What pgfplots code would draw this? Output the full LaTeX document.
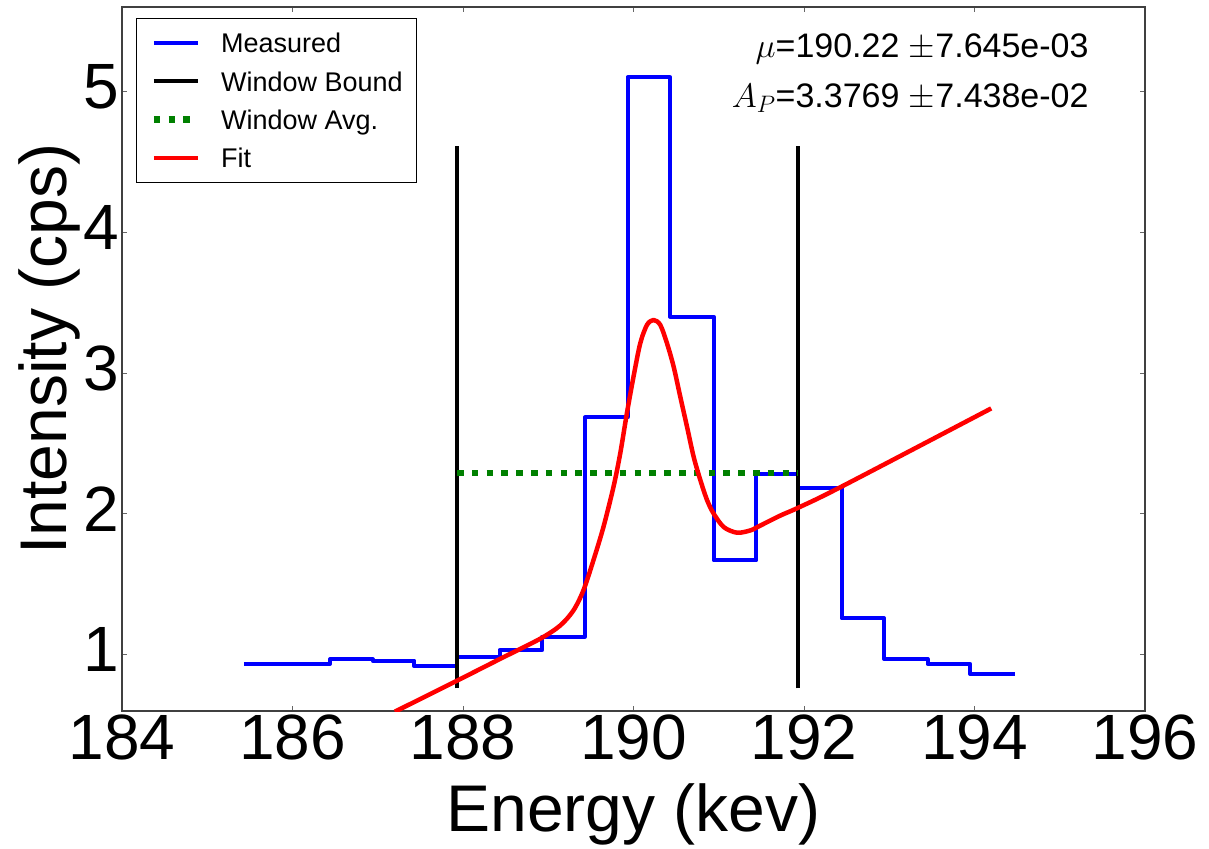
\RequirePackage{fix-cm}
\documentclass[border=0pt]{standalone}
\usepackage{fontspec}
\setmainfont{Liberation Sans}
\usepackage{pgfplots}
\pgfplotsset{compat=1.18}
\definecolor{mplgreen}{RGB}{0,128,0}
\begin{document}
\begin{tikzpicture}
\begin{axis}[
  name=ax,
  scale only axis, width=1023pt, height=704pt,
  xmin=184, xmax=196, ymin=0.6, ymax=5.6,
  xtick={184,186,188,190,192,194,196}, ytick={1,2,3,4,5},
  tick align=inside, major tick length=5pt,
  tick style={line width=1pt, black!60},
  axis line style={line width=1.5pt, black!75},
  /pgf/number format/assume math mode=true,
  /pgf/number format/1000 sep={},
  ticklabel style={font=\fontsize{64}{70}\selectfont, inner sep=0pt},
  xticklabel style={anchor=north, yshift=-4pt},
  yticklabel style={anchor=east, xshift=-3pt, yshift=5pt},
  xlabel={Energy (kev)}, ylabel={Intensity (cps)},
  label style={font=\fontsize{66}{72}\selectfont, inner sep=0pt},
  xlabel style={at={(axis description cs:0.5,-0.1714)}, anchor=base},
  ylabel style={at={(axis description cs:-0.0547,0.514)}, anchor=base},
  legend cell align=left,
  legend image code/.code={\draw[#1] (0pt,0pt) -- (44pt,0pt);},
  legend style={at={(axis description cs:0.01369,0.984)}, anchor=north west,
    draw=black, line width=1.2pt, inner xsep=14pt, inner ysep=8.5pt,
    font=\fontsize{27}{30}\selectfont, row sep=6.9pt,
    nodes={inner sep=0pt, text height=25.4pt, text depth=6pt},
    /tikz/every odd column/.append style={column sep=20pt}},
]
\addplot[const plot, blue, line width=4pt, line join=round] coordinates {
  (185.43,0.934) (185.93,0.934) (186.44,0.967) (186.94,0.957) (187.43,0.917)
  (187.93,0.981) (188.43,1.033) (188.93,1.128) (189.43,2.685) (189.93,5.10)
  (190.43,3.40) (190.94,1.669) (191.44,2.286) (191.93,2.186) (192.44,1.258)
  (192.94,0.969) (193.45,0.934) (193.95,0.863) (194.47,0.863)
};
\addlegendentry{Measured}
\addplot[black, line width=4pt] coordinates {(187.93,0.76) (187.93,4.61)};
\addlegendentry{Window Bound}
\addplot[black, line width=4pt, forget plot] coordinates {(191.93,0.76) (191.93,4.61)};
\addplot[mplgreen, line width=6.5pt, dash pattern=on 6.5pt off 8.3pt] coordinates {(187.93,2.29) (191.93,2.29)};
\addlegendentry{Window Avg.}
\addplot[red, line width=4.5pt, line join=round, smooth, tension=0.5] coordinates {
  (187.2,0.595) (187.929,0.815) (188.432,0.969) (188.902,1.112) (189.138,1.206)
  (189.294,1.313) (189.412,1.456) (189.529,1.669) (189.647,1.906) (189.765,2.191)
  (189.844,2.428) (189.922,2.713) (190.0,2.974) (190.079,3.211) (190.158,3.342)
  (190.235,3.377) (190.314,3.342) (190.393,3.211) (190.471,3.045) (190.549,2.831)
  (190.628,2.618) (190.706,2.404) (190.785,2.238) (190.864,2.096) (190.941,2.001)
  (191.059,1.906) (191.216,1.866) (191.373,1.883) (191.452,1.906) (191.726,1.989)
  (191.922,2.041) (192.432,2.191) (194.196,2.749)
};
\addlegendentry{Fit}
\node[anchor=base east, inner sep=0pt, font=\fontsize{34}{36}\selectfont] at (axis description cs:0.945,0.928) {$\mu$=190.22$\;\pm$7.645e-03};
\node[anchor=base east, inner sep=0pt, font=\fontsize{34}{36}\selectfont] at (axis description cs:0.945,0.857) {$A_P$=3.3769$\;\pm$7.438e-02};
\end{axis}
\pgfresetboundingbox
\useasboundingbox ([shift={(-122pt,-137pt)}]ax.south west) rectangle ([shift={(64pt,7pt)}]ax.north east);
\end{tikzpicture}
\end{document}
